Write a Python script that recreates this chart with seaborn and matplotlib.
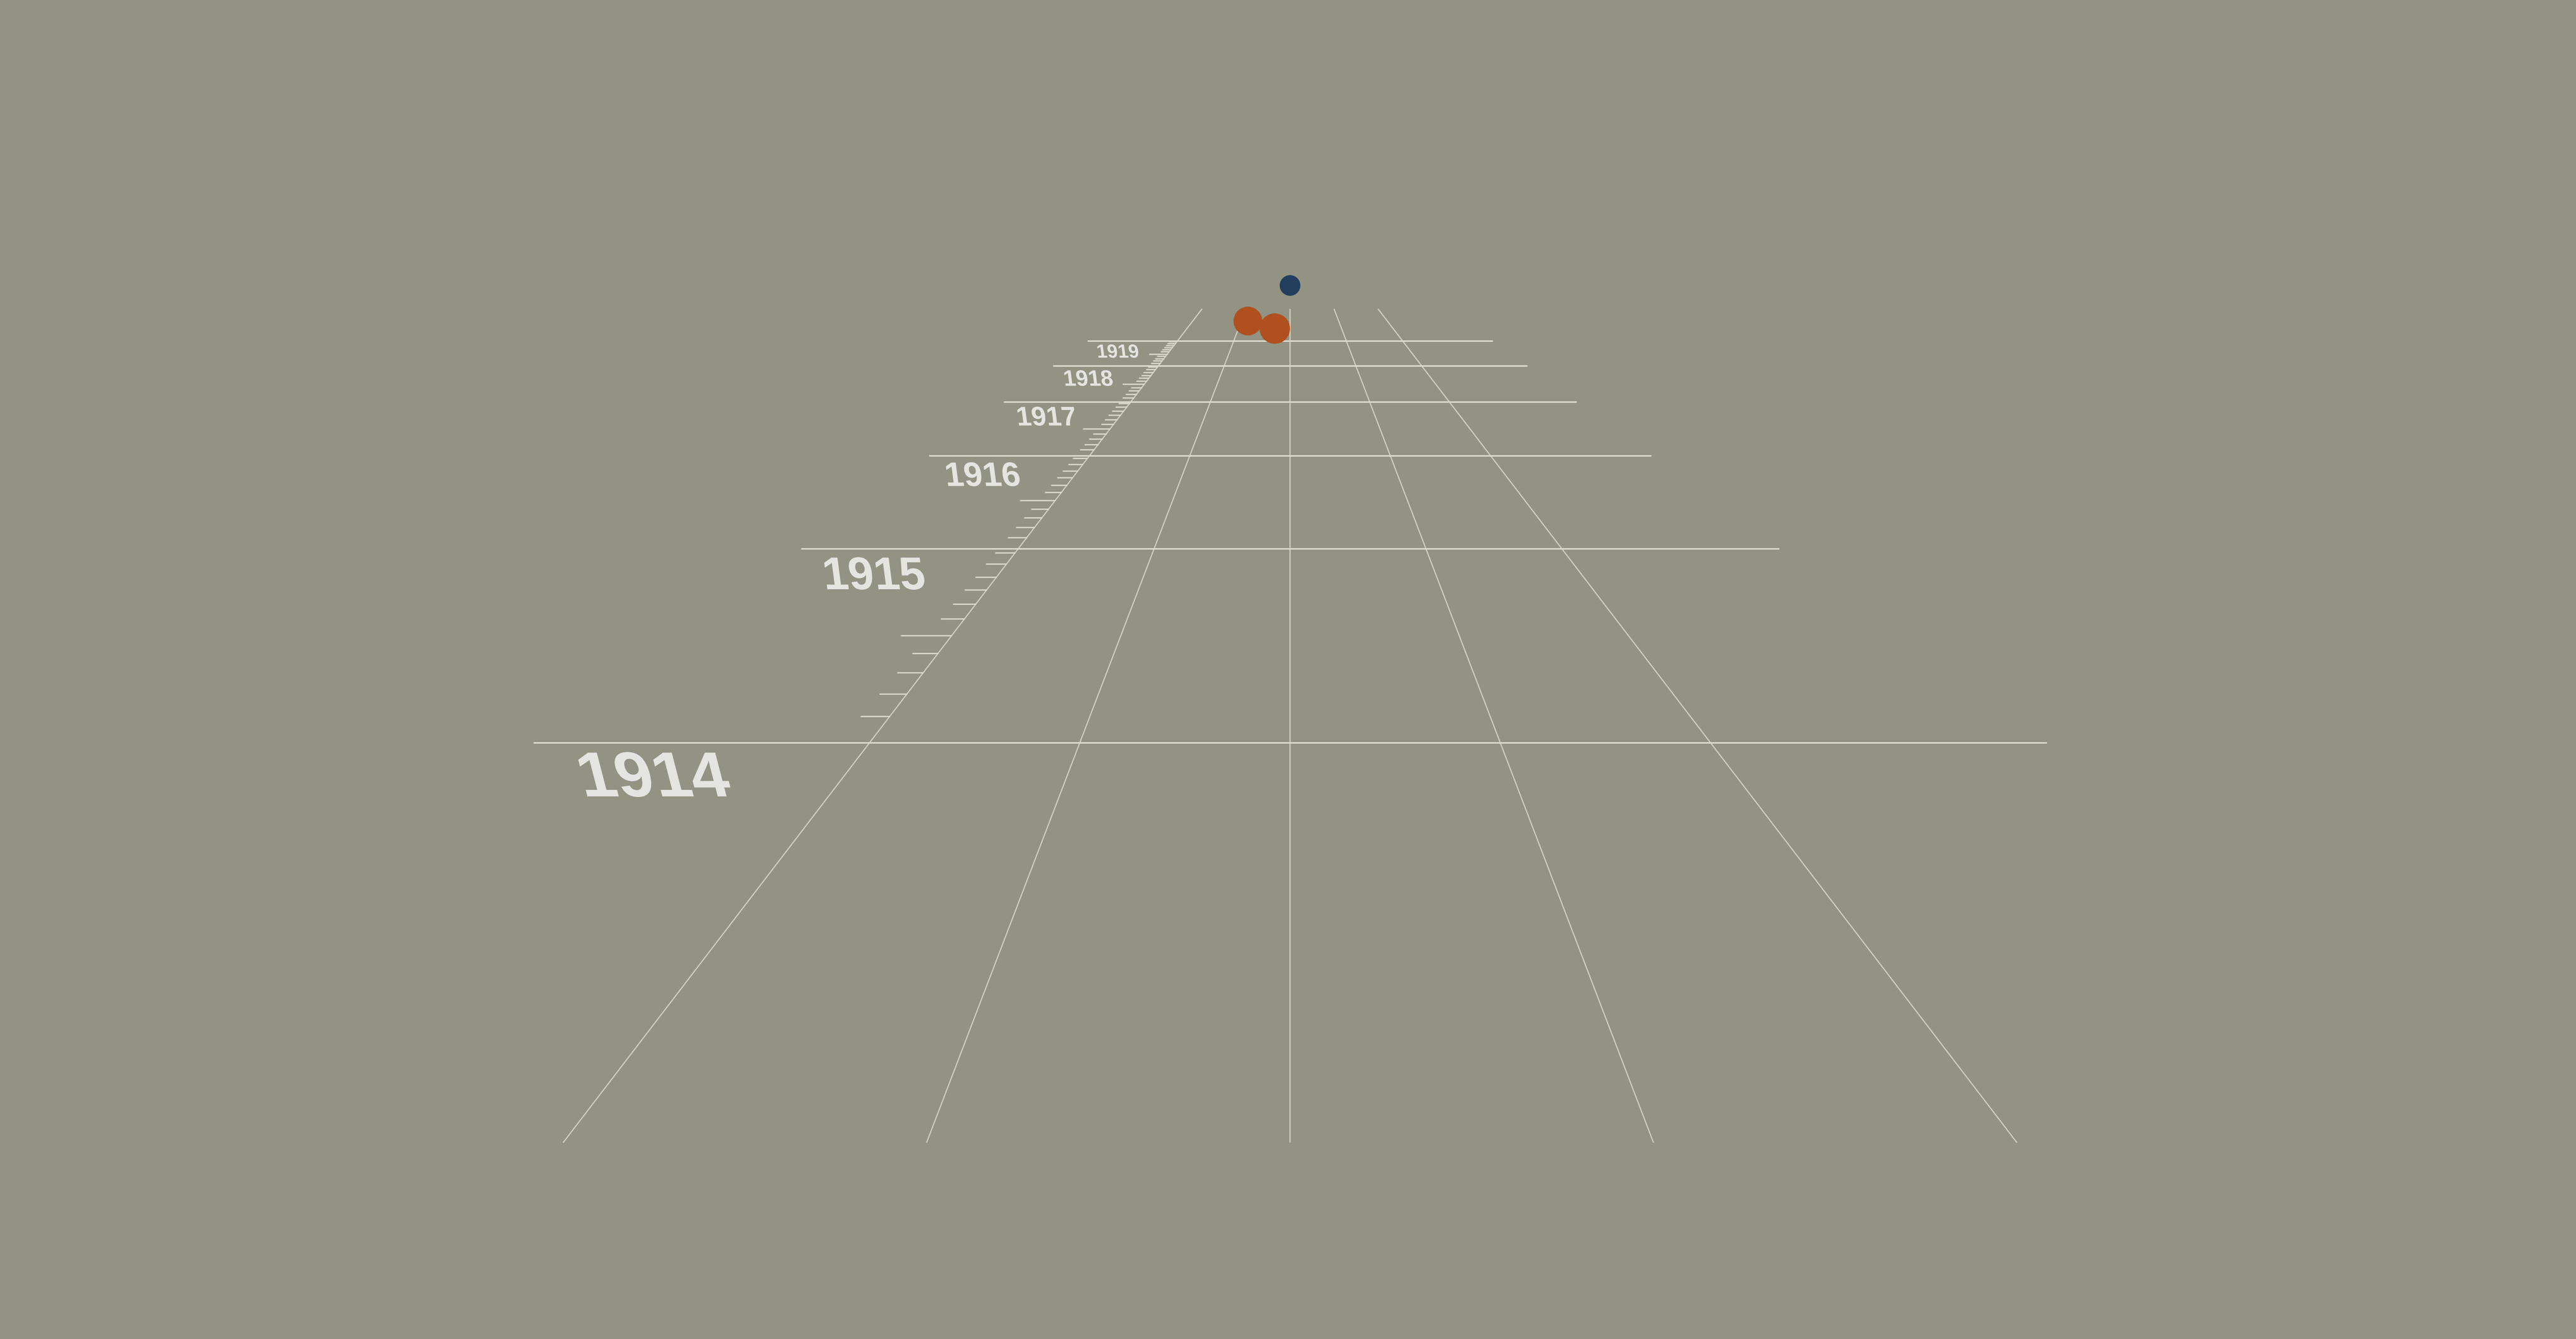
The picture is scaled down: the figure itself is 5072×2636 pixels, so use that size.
#!/usr/bin/env python3
"""
Perspective timeline: years 1914-1919 laid out on a receding ground plane,
monthly ticks along the left rail and event dots near the horizon.
"""

import numpy as np
import pandas as pd
import matplotlib
matplotlib.use("Agg")
import matplotlib.pyplot as plt
import matplotlib.patheffects as pe
from matplotlib.transforms import Affine2D
from matplotlib.collections import LineCollection
import seaborn as sns

# ---- data -------------------------------------------------------------
years = [1914, 1915, 1916, 1917, 1918, 1919]
tick_years = [1914, 1915, 1916, 1917, 1918]
tick_offsets = [0.092, 0.178, 0.268, 0.355, 0.443, 0.532,
                0.617, 0.705, 0.791, 0.882, 0.966]
long_tick_index = 4

rail_lanes = [-2, -1, 0, 1, 2]
rail_start = 1913.23
rail_end = 1920.90

event_dates = [1923.13, 1920.06, 1919.62]
event_lanes = [0.0, -0.866, -0.295]
event_side = ["blue", "orange", "orange"]

# ---- style --------------------------------------------------------------
BG = "#929383"
LINE = "#d9d9cc"
TEXT = "#e4e4e1"
PALETTE = {"blue": "#233e5d", "orange": "#b0501f"}

W, H, DPI = 5072, 2636, 200

sns.set_theme(style="white")
plt.rcParams['font.family'] = ['Liberation Sans', 'DejaVu Sans']

# ---- camera -------------------------------------------------------------
CX, YV = 2540.0, 382.0      # vanishing point
F_LANE = 755.7              # px per lane unit at depth 1
F_GROUND = 1972.0           # camera height * focal length
Z_NEAR = 1.826              # depth of the 1914 line


def depth(year):
    return np.asarray(year, dtype=float) - 1914 + Z_NEAR


def project(year, lane):
    z = depth(year)
    return CX + F_LANE * np.asarray(lane, dtype=float) / z, YV + F_GROUND / z


def ground_scale(year):
    return F_GROUND / depth(year)


def px2pt(px):
    return px * 72.0 / DPI


class Lean(pe.AbstractPathEffect):
    """Shear (and optionally widen) glyphs so their tops lean back left."""

    def __init__(self, k, stretch=1.0):
        super().__init__()
        self.k = k
        self.stretch = stretch

    def draw_path(self, renderer, gc, tpath, affine, rgbFace=None):
        pts = affine.transform(tpath.vertices)
        cx = (pts[:, 0].min() + pts[:, 0].max()) / 2
        cy = (pts[:, 1].min() + pts[:, 1].max()) / 2
        sk = (Affine2D().translate(-cx, -cy)
              .scale(self.stretch, 1.0)
              .skew(-np.arctan(self.k), 0).translate(cx, cy))
        renderer.draw_path(gc, tpath, affine + sk, rgbFace)


fig = plt.figure(figsize=(W / DPI, H / DPI), dpi=DPI)
fig.patch.set_facecolor(BG)
ax = fig.add_axes([0, 0, 1, 1])
ax.set_facecolor(BG)
ax.set_xlim(0, W)
ax.set_ylim(H, 0)
ax.axis('off')

# rails receding to the vanishing point
rails = []
for lane in rail_lanes:
    x0, y0 = project(rail_start, lane)
    x1, y1 = project(rail_end, lane)
    rails.append([(x0, y0), (x1, y1)])
ax.add_collection(LineCollection(rails, colors=LINE, linewidths=px2pt(2.2),
                                 alpha=0.9, zorder=2))

# year lines
year_lines = []
for yr in years:
    xa, ya = project(yr, -3.6)
    xb, yb = project(yr, 3.6)
    year_lines.append([(xa, ya), (xb, yb)])
ax.add_collection(LineCollection(year_lines, colors=LINE, linewidths=px2pt(3),
                                 zorder=2))

# month ticks on the left rail
ticks = []
for yr in tick_years:
    for i, off in enumerate(tick_offsets):
        length = 0.303 if i == long_tick_index else 0.146
        xa, ya = project(yr + off, -2 - length)
        xb, yb = project(yr + off, -2)
        ticks.append([(xa, ya), (xb, yb)])
ax.add_collection(LineCollection(ticks, colors=LINE, linewidths=px2pt(2.6),
                                 zorder=2))

# year labels: the front one is drawn a little flatter, wider, leaning more
for yr in years:
    v = ground_scale(yr)
    front = yr == years[0]
    cap, base, left, lean, wide = ((0.083, 1.098, 1.1625, 0.26, 1.06) if front
                                   else (0.093, 1.115, 1.175, 0.13, 1.0))
    ax.text(CX - left * v, YV + base * v, str(yr),
            ha='center', va='baseline', color=TEXT,
            fontsize=px2pt(cap * v / 0.716), fontweight='bold',
            path_effects=[Lean(lean, wide)], zorder=3)

# event dots (far to near so nearer ones overlap)
ev = pd.DataFrame({"date": event_dates, "lane": event_lanes,
                   "side": event_side})
ev["x"], ev["y"] = project(ev["date"].values, ev["lane"].values)
ev["r"] = 0.113 * ground_scale(ev["date"].values)
ev = ev.sort_values("date", ascending=False).reset_index(drop=True)
sns.scatterplot(data=ev, x="x", y="y", hue="side", palette=PALETTE,
                s=(2 * px2pt(ev["r"].values)) ** 2, linewidth=0,
                legend=False, ax=ax, zorder=4)

ax.set_xlim(0, W)
ax.set_ylim(H, 0)
ax.set_xlabel('')
ax.set_ylabel('')
fig.savefig("out.png", dpi=DPI, facecolor=BG)
